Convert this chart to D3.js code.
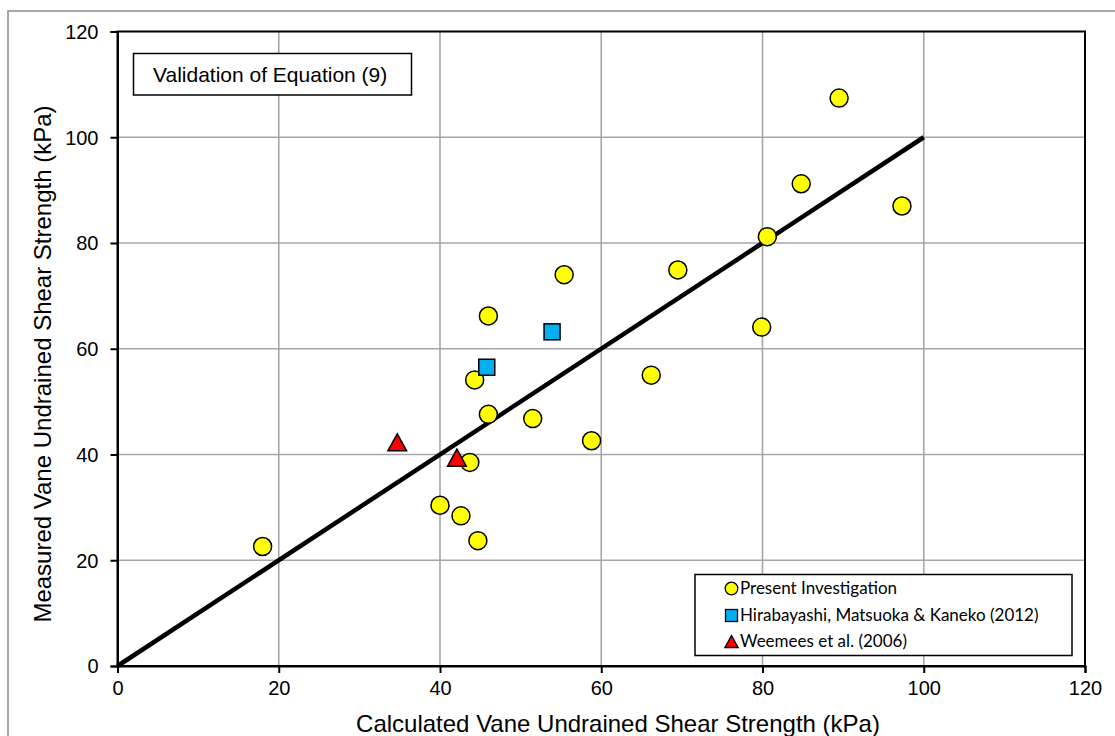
<!DOCTYPE html>
<html><head><meta charset="utf-8">
<script src="https://cdn.jsdelivr.net/npm/d3@7"></script>
<style>html,body{margin:0;padding:0;background:#fff;}svg{display:block;}</style>
</head><body>
<svg id="chart" width="1115" height="736"></svg>
<script>
// ---- data ----
const presentX = [18.0, 40.0, 42.6, 44.7, 43.7, 46.0, 44.3, 46.0, 51.5, 58.8, 55.4, 66.2, 69.5, 79.9, 80.6, 84.8, 89.5, 97.3];
const presentY = [22.6, 30.4, 28.4, 23.7, 38.5, 47.6, 54.1, 66.2, 46.8, 42.6, 74.0, 55.0, 74.9, 64.1, 81.2, 91.2, 107.4, 87.0];
const hiraX = [45.8, 53.9];
const hiraY = [56.5, 63.2];
const weemX = [34.7, 42.1];
const weemY = [42.3, 39.4];
const lineX = [0, 100];
const lineY = [0, 100];
const xTicks = [0, 20, 40, 60, 80, 100, 120];
const yTicks = [0, 20, 40, 60, 80, 100, 120];
const seriesNames = ["Present Investigation", "Hirabayashi, Matsuoka & Kaneko (2012)", "Weemees et al. (2006)"];
const xTitle = "Calculated Vane Undrained Shear Strength (kPa)";
const yTitle = "Measured Vane Undrained Shear Strength (kPa)";
const boxTitle = "Validation of Equation (9)";

const svg = d3.select("#chart");
const L = 117.5, R = 1085, T = 31.5, B = 666;
const x = d3.scaleLinear().domain([0, 120]).range([L, R]);
const y = d3.scaleLinear().domain([0, 120]).range([B, T]);
const font = "'Liberation Sans', Arial, sans-serif";

// outer chart border (only top/left visible)
svg.append("rect").attr("x", 8).attr("y", 11).attr("width", 1140).attr("height", 760)
  .attr("fill", "none").attr("stroke", "#8c8c8c").attr("stroke-width", 1.5);

// gridlines
svg.append("g").selectAll("line.v").data(xTicks.slice(1, -1)).join("line")
  .attr("x1", d => x(d)).attr("x2", d => x(d)).attr("y1", T).attr("y2", B)
  .attr("stroke", "#a6a6a6").attr("stroke-width", 1.6);
svg.append("g").selectAll("line.h").data(yTicks.slice(1, -1)).join("line")
  .attr("y1", d => y(d)).attr("y2", d => y(d)).attr("x1", L).attr("x2", R)
  .attr("stroke", "#a6a6a6").attr("stroke-width", 1.6);

// plot border
svg.append("rect").attr("x", L).attr("y", T).attr("width", R - L).attr("height", B - T)
  .attr("fill", "none").attr("stroke", "#000").attr("stroke-width", 2);

// axes
const xAxis = svg.append("g").attr("transform", `translate(0,${B})`)
  .call(d3.axisBottom(x).tickValues(xTicks).tickSize(7).tickPadding(8).tickFormat(d3.format("d")));
const yAxis = svg.append("g").attr("transform", `translate(${L},0)`)
  .call(d3.axisLeft(y).tickValues(yTicks).tickSize(7).tickPadding(12).tickFormat(d3.format("d")));
[xAxis, yAxis].forEach(a => {
  a.select(".domain").attr("stroke", "#000").attr("stroke-width", 2);
  a.selectAll(".tick line").attr("stroke", "#000").attr("stroke-width", 2);
  a.selectAll(".tick text").attr("font-family", font).attr("font-size", 20).attr("fill", "#000");
});
yAxis.selectAll(".tick text").attr("dy", "0.34em");

// axis titles
svg.append("text").attr("x", 618).attr("y", 732).attr("text-anchor", "middle")
  .attr("font-family", font).attr("font-size", 24).attr("fill", "#000").text(xTitle);
svg.append("text").attr("transform", `translate(51,364) rotate(-90)`).attr("text-anchor", "middle")
  .attr("font-family", font).attr("font-size", 24).attr("fill", "#000").text(yTitle);

// 1:1 line
svg.append("path").datum(lineX.map((d, i) => [d, lineY[i]]))
  .attr("d", d3.line().x(d => x(d[0])).y(d => y(d[1])))
  .attr("stroke", "#000").attr("stroke-width", 4.5).attr("fill", "none");

// markers
const triPath = (cx, cy, s) => `M${cx},${cy - s * 0.5}L${cx + s * 0.55},${cy + s * 0.5}L${cx - s * 0.55},${cy + s * 0.5}Z`;
svg.append("g").selectAll("circle").data(presentX.map((d, i) => [d, presentY[i]])).join("circle")
  .attr("cx", d => x(d[0])).attr("cy", d => y(d[1])).attr("r", 9)
  .attr("fill", "#ffff00").attr("stroke", "#000").attr("stroke-width", 1.5);
svg.append("g").selectAll("rect").data(hiraX.map((d, i) => [d, hiraY[i]])).join("rect")
  .attr("x", d => x(d[0]) - 8).attr("y", d => y(d[1]) - 8).attr("width", 16).attr("height", 16)
  .attr("fill", "#00b0f0").attr("stroke", "#000").attr("stroke-width", 1.5);
svg.append("g").selectAll("path").data(weemX.map((d, i) => [d, weemY[i]])).join("path")
  .attr("d", d => triPath(x(d[0]), y(d[1]), 17))
  .attr("fill", "#ff0000").attr("stroke", "#000").attr("stroke-width", 1.5);

// title box
svg.append("rect").attr("x", 133.5).attr("y", 53.5).attr("width", 278).attr("height", 41.5)
  .attr("fill", "#fff").attr("stroke", "#000").attr("stroke-width", 1.5);
svg.append("text").attr("x", 153).attr("y", 82).attr("font-family", font).attr("font-size", 21)
  .attr("fill", "#000").text(boxTitle);

// legend
const lg = svg.append("g");
lg.append("rect").attr("x", 695).attr("y", 574.5).attr("width", 377).attr("height", 81)
  .attr("fill", "#fff").attr("stroke", "#000").attr("stroke-width", 1.5);
const rowY = [588.5, 615.5, 641.5];
const mx = 731.5;
lg.append("circle").attr("cx", mx).attr("cy", rowY[0]).attr("r", 6.3)
  .attr("fill", "#ffff00").attr("stroke", "#000").attr("stroke-width", 1.3);
lg.append("rect").attr("x", mx - 6).attr("y", rowY[1] - 6).attr("width", 12).attr("height", 12)
  .attr("fill", "#00b0f0").attr("stroke", "#000").attr("stroke-width", 1.3);
lg.append("path").attr("d", triPath(mx, rowY[2], 12))
  .attr("fill", "#ff0000").attr("stroke", "#000").attr("stroke-width", 1.3);
lg.selectAll("text").data(seriesNames).join("text")
  .attr("x", 740).attr("y", (d, i) => rowY[i]).attr("dy", "0.35em")
  .attr("font-family", "Lato, 'Open Sans', sans-serif").attr("font-size", 17).attr("fill", "#000")
  .text(d => d);
</script>
</body></html>
